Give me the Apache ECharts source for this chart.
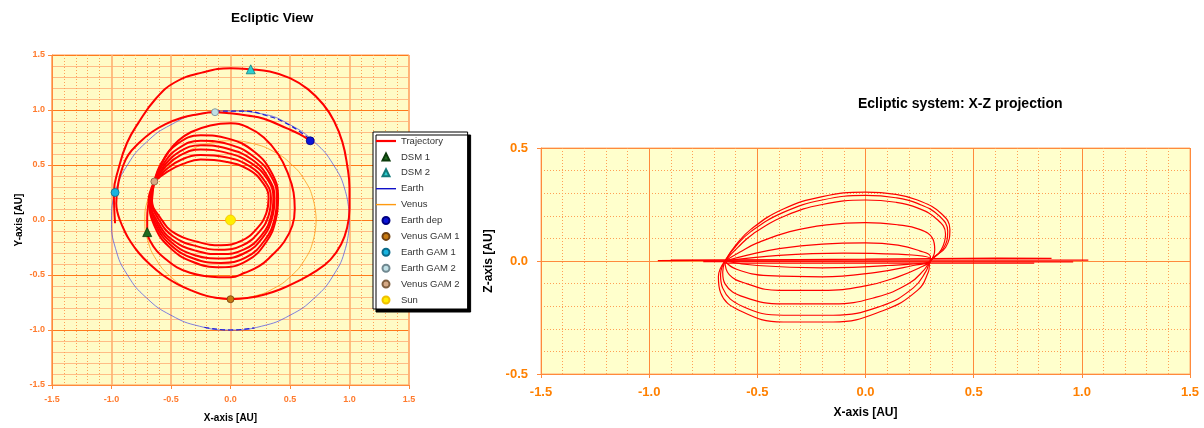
<!DOCTYPE html>
<html>
<head>
<meta charset="utf-8">
<title>Ecliptic View</title>
<script src="https://cdn.jsdelivr.net/npm/echarts/dist/echarts.min.js"></script>
<style>
html, body { margin: 0; padding: 0; background: #fff; }
#chart { width: 1204px; height: 428px; }
</style>
</head>
<body>
<div id="chart"></div>
<script>
// tick labels shared by both plots
var ticks = [-1.5, -1.0, -0.5, 0.0, 0.5, 1.0, 1.5]
var zTicks = [-0.5, 0.0, 0.5]

// planet orbits (ecliptic X-Y, AU)
var earthOrbit = [[1,0],[0.966,0.259],[0.866,0.5],[0.707,0.707],[0.5,0.866],[0.259,0.966],[0,0.99],
  [-0.259,0.966],[-0.5,0.866],[-0.707,0.707],[-0.866,0.5],[-0.966,0.259],[-1,0],[-0.966,-0.259],
  [-0.866,-0.5],[-0.707,-0.707],[-0.5,-0.866],[-0.259,-0.966],[0,-1],[0.259,-0.966],[0.5,-0.866],
  [0.707,-0.707],[0.866,-0.5],[0.966,-0.259],[1,0]]
// darker dashed stretches of the Earth orbit
var earthArcTop = [[-0.13,0.99],[0.1,0.99],[0.3,0.95],[0.5,0.86],[0.67,0.73]]
var earthArcBottom = [[-0.22,-0.975],[0,-1],[0.2,-0.98]]
var venusOrbit = [[0.72,0],[0.695,0.186],[0.624,0.36],[0.509,0.509],[0.36,0.624],[0.186,0.695],[0,0.72],
  [-0.186,0.695],[-0.36,0.624],[-0.509,0.509],[-0.624,0.36],[-0.695,0.186],[-0.72,0],[-0.695,-0.186],
  [-0.624,-0.36],[-0.509,-0.509],[-0.36,-0.624],[-0.186,-0.695],[0,-0.72],[0.186,-0.695],[0.36,-0.624],
  [0.509,-0.509],[0.624,-0.36],[0.695,-0.186],[0.72,0]]

// trajectory legs, X-Y
var legDeparture = [[0.67,0.72],[0.58,0.78],[0.48,0.83],[0.28,0.92],[0.14,0.95],[0.0,0.97],[-0.14,0.98],
  [-0.28,0.96],[-0.41,0.93],[-0.55,0.87],[-0.66,0.8],[-0.77,0.7],[-0.86,0.59],[-0.91,0.47],[-0.94,0.35],
  [-0.96,0.15],[-0.95,0.07],[-0.93,0.0],[-0.89,-0.1],[-0.85,-0.18],[-0.77,-0.3],[-0.68,-0.4],[-0.57,-0.5],
  [-0.45,-0.58],[-0.33,-0.64],[-0.2,-0.69],[-0.1,-0.71],[0,-0.72]]
var legOuter = [[0,-0.72],[0.14,-0.71],[0.28,-0.68],[0.42,-0.63],[0.56,-0.56],[0.71,-0.47],[0.84,-0.36],
  [0.93,-0.22],[0.98,-0.07],[1.0,0.1],[1.0,0.29],[0.98,0.5],[0.94,0.71],[0.87,0.9],[0.78,1.05],[0.65,1.19],
  [0.5,1.29],[0.33,1.35],[0.17,1.37],[0,1.38],[-0.24,1.34],[-0.47,1.25],[-0.63,1.1],[-0.77,0.89],
  [-0.87,0.7],[-0.94,0.47],[-0.98,0.25],[-0.97,-0.03]]
var legMiddle = [[-0.64,0.35],[-0.68,0.24],[-0.69,0.15],[-0.7,0.02],[-0.7,-0.11],[-0.67,-0.2],[-0.62,-0.28],
  [-0.54,-0.36],[-0.45,-0.43],[-0.34,-0.48],[-0.22,-0.51],[-0.1,-0.52],[0,-0.52],[0.12,-0.48],[0.24,-0.42],
  [0.34,-0.33],[0.45,-0.2],[0.52,-0.05],[0.54,0.1],[0.53,0.25],[0.48,0.43],[0.4,0.6],[0.28,0.75],
  [0.15,0.84],[0,0.88],[-0.17,0.86],[-0.33,0.8],[-0.44,0.72],[-0.52,0.62],[-0.59,0.49],[-0.64,0.35]]
var loop1 = [[-0.64,0.35],[-0.68,0.15],[-0.64,-0.05],[-0.52,-0.24],[-0.32,-0.38],[-0.08,-0.43],[0.14,-0.37],
  [0.3,-0.2],[0.38,0.0],[0.4,0.2],[0.35,0.42],[0.2,0.62],[-0.02,0.74],[-0.25,0.77],[-0.45,0.69],[-0.58,0.52],[-0.64,0.35]]
var loop2 = [[-0.64,0.35],[-0.68,0.15],[-0.63,-0.04],[-0.51,-0.22],[-0.31,-0.35],[-0.08,-0.39],[0.13,-0.34],
  [0.29,-0.18],[0.37,0.01],[0.39,0.2],[0.34,0.4],[0.19,0.58],[-0.02,0.69],[-0.25,0.72],[-0.44,0.65],[-0.57,0.5],[-0.64,0.35]]
var loop3 = [[-0.64,0.35],[-0.67,0.16],[-0.62,-0.03],[-0.5,-0.2],[-0.3,-0.32],[-0.08,-0.35],[0.12,-0.3],
  [0.27,-0.16],[0.35,0.02],[0.37,0.2],[0.32,0.38],[0.18,0.55],[-0.03,0.65],[-0.25,0.68],[-0.43,0.62],[-0.56,0.49],[-0.64,0.35]]
var loop4 = [[-0.64,0.35],[-0.67,0.16],[-0.61,-0.02],[-0.49,-0.18],[-0.29,-0.28],[-0.08,-0.31],[0.11,-0.27],
  [0.26,-0.14],[0.34,0.03],[0.36,0.2],[0.31,0.37],[0.17,0.52],[-0.03,0.61],[-0.25,0.64],[-0.42,0.59],[-0.55,0.48],[-0.64,0.35]]
var loop5 = [[-0.64,0.35],[-0.66,0.17],[-0.6,0.0],[-0.48,-0.15],[-0.28,-0.24],[-0.08,-0.27],[0.1,-0.23],
  [0.24,-0.11],[0.32,0.04],[0.34,0.2],[0.29,0.35],[0.16,0.49],[-0.04,0.57],[-0.25,0.59],[-0.41,0.55],[-0.54,0.46],[-0.64,0.35]]
var loop6 = [[-0.64,0.35],[-0.66,0.18],[-0.59,0.02],[-0.47,-0.12],[-0.27,-0.2],[-0.08,-0.23],[0.09,-0.19],
  [0.22,-0.08],[0.3,0.06],[0.32,0.2],[0.27,0.34],[0.15,0.46],[-0.04,0.53],[-0.25,0.55],[-0.4,0.51],[-0.53,0.44],[-0.64,0.35]]

// events
var dsm1 = [-0.7, -0.11]
var dsm2 = [0.17, 1.37]
var earthDep = [0.67, 0.72]
var venusGam1 = [0.0, -0.72]
var earthGam1 = [-0.97, 0.25]
var earthGam2 = [-0.13, 0.98]
var venusGam2 = [-0.64, 0.35]
var sun = [0.0, 0.0]

// trajectory, X-Z projection
var xzFlatA = [[-0.96,0.002],[0.0,0.008],[0.61,0.013],[0.86,0.012]]
var xzFlatB = [[-0.9,0.004],[0.2,0.004],[1.03,0.004]]
var xzFlatC = [[-0.75,-0.003],[0.3,-0.004],[0.96,-0.004]]
var xzFlatD = [[-0.65,-0.01],[0.2,-0.01],[0.78,-0.009]]
var xzLoop1 = [[-0.65,0],[-0.4,0.025],[-0.1,0.035],[0.15,0.03],[0.3,0.01],[0.3,0],[0.1,-0.02],[-0.2,-0.03],[-0.5,-0.02],[-0.65,0]]
var xzLoop2 = [[-0.65,0],[-0.55,0.025],[-0.4,0.055],[-0.2,0.075],[0,0.08],[0.15,0.07],[0.25,0.045],[0.3,0.02],[0.3,0],
  [0.22,-0.02],[0.05,-0.05],[-0.2,-0.07],[-0.45,-0.065],[-0.6,-0.035],[-0.65,0]]
var xzLoop3 = [[-0.65,0],[-0.58,0.04],[-0.5,0.08],[-0.35,0.13],[-0.18,0.16],[0,0.17],[0.15,0.16],[0.25,0.14],[0.31,0.1],
  [0.32,0.05],[0.3,0],[0.25,-0.03],[0.15,-0.07],[0,-0.11],[-0.2,-0.13],[-0.4,-0.13],[-0.55,-0.1],[-0.63,-0.06],[-0.65,0]]
var xzLoop4 = [[-0.65,0],[-0.59,0.06],[-0.52,0.12],[-0.37,0.2],[-0.2,0.25],[0,0.27],[0.14,0.26],[0.24,0.235],[0.33,0.185],
  [0.37,0.12],[0.35,0.05],[0.3,0],[0.27,-0.04],[0.2,-0.1],[0.05,-0.16],[-0.15,-0.19],[-0.38,-0.19],[-0.56,-0.16],[-0.65,-0.1],[-0.66,-0.05],[-0.65,0]]
var xzLoop5 = [[-0.65,0],[-0.6,0.065],[-0.53,0.13],[-0.38,0.215],[-0.2,0.27],[0,0.29],[0.14,0.28],[0.24,0.255],[0.34,0.2],
  [0.38,0.13],[0.36,0.055],[0.3,0],[0.28,-0.045],[0.22,-0.12],[0.07,-0.2],[-0.15,-0.24],[-0.38,-0.24],[-0.57,-0.2],[-0.66,-0.12],[-0.67,-0.06],[-0.65,0]]
var xzLoop6 = [[-0.65,0],[-0.6,0.07],[-0.53,0.14],[-0.38,0.23],[-0.2,0.285],[0,0.305],[0.14,0.295],[0.24,0.27],[0.35,0.21],
  [0.39,0.14],[0.37,0.06],[0.3,0],[0.29,-0.05],[0.24,-0.13],[0.08,-0.22],[-0.15,-0.27],[-0.38,-0.27],[-0.58,-0.22],[-0.67,-0.14],[-0.68,-0.07],[-0.65,0]]

var lineIcon = 'path://M0,0h20v2.2h-20z'
var thinIcon = 'path://M0,0h20v1.4h-20z'
var triIcon = 'path://M4,0L8,8L0,8Z'
var legendItems = [
  { name: 'Trajectory', icon: lineIcon },
  { name: 'DSM 1', icon: triIcon },
  { name: 'DSM 2', icon: triIcon },
  { name: 'Earth', icon: thinIcon },
  { name: 'Venus', icon: thinIcon },
  { name: 'Earth dep', icon: 'circle' },
  { name: 'Venus GAM 1', icon: 'circle' },
  { name: 'Earth GAM 1', icon: 'circle' },
  { name: 'Earth GAM 2', icon: 'circle' },
  { name: 'Venus GAM 2', icon: 'circle' },
  { name: 'Sun', icon: 'circle' }
]

var fmt = function (v) { return v.toFixed(1) }

function axis(idx, dim, name, big, lo, hi, minorDotted) {
  return {
    type: 'value', gridIndex: idx, min: lo, max: hi, interval: 0.5,
    name: name, nameLocation: 'middle',
    nameGap: big ? (dim === 'x' ? 33 : 39) : 28,
    nameTextStyle: { color: '#000', fontWeight: 'bold', fontSize: big ? 12 : 10, fontFamily: 'Liberation Sans' },
    axisLine: { show: true, onZero: false, lineStyle: { color: '#ff8a3c', width: 1 } },
    axisTick: { show: true, inside: false, length: 4, lineStyle: { color: '#ff8a3c' } },
    axisLabel: {
      formatter: fmt, color: big ? '#ff8000' : '#ff7b2e', fontWeight: 'bold',
      fontSize: big ? 13 : 9, fontFamily: 'Liberation Sans',
      margin: big ? (dim === 'x' ? 12 : 13) : (dim === 'x' ? 10 : 7)
    },
    splitLine: { show: true, lineStyle: {
      color: big ? '#ff8a3c' : (dim === 'y' ? '#ff7a1a' : '#ffb070'),
      width: big ? 1 : (dim === 'y' ? 1.2 : 1.6) } },
    minorTick: { show: false, splitNumber: 5 },
    minorSplitLine: { show: true, lineStyle: minorDotted
      ? { color: '#ffa055', width: 1, type: [1, 2] }
      : { color: '#ffbc85', width: 1, type: 'solid' } }
  }
}

function traj(data, i, w) {
  return {
    name: 'Trajectory', type: 'line', xAxisIndex: i, yAxisIndex: i, data: data,
    smooth: data.length > 5 ? 0.45 : false, symbol: 'none',
    lineStyle: { color: '#ff0000', width: w }, itemStyle: { color: '#ff0000' }, z: 3
  }
}

function marker(name, pt, symbol, color, size, border) {
  return {
    name: name, type: 'scatter', xAxisIndex: 0, yAxisIndex: 0, data: [pt],
    symbol: symbol, symbolSize: size,
    itemStyle: { color: color, borderColor: border, borderWidth: 0.8, opacity: 1 }, z: 5
  }
}

var chart = echarts.init(document.getElementById('chart'))
chart.setOption({
  animation: false,
  backgroundColor: '#fff',
  graphic: [
    { type: 'text', left: 231, top: 11, style: { text: 'Ecliptic View', fill: '#000',
      font: 'bold 13.5px "Liberation Sans"', textAlign: 'center' } },
    { type: 'text', left: 858, top: 97, style: { text: 'Ecliptic system: X-Z projection', fill: '#000',
      font: 'bold 14px "Liberation Sans"', textAlign: 'center' } }
  ],
  grid: [
    { left: 52, right: 795, top: 55, bottom: 43, show: true, backgroundColor: '#fffbc6',
      borderColor: '#ff9a50', borderWidth: 1, outerBoundsMode: 'none' },
    { left: 541, right: 14, top: 148, bottom: 54, show: true, backgroundColor: '#ffffcc',
      borderColor: '#ffb070', borderWidth: 1, outerBoundsMode: 'none' }
  ],
  xAxis: [
    axis(0, 'x', 'X-axis [AU]', false, ticks[0], ticks[ticks.length - 1], true),
    axis(1, 'x', 'X-axis [AU]', true, ticks[0], ticks[ticks.length - 1], true)
  ],
  yAxis: [
    axis(0, 'y', 'Y-axis [AU]', false, ticks[0], ticks[ticks.length - 1], false),
    axis(1, 'y', 'Z-axis [AU]', true, zTicks[0], zTicks[zTicks.length - 1], true)
  ],
  legend: {
    data: legendItems, orient: 'vertical', left: 373, top: 132,
    selectedMode: false, backgroundColor: '#fff', borderColor: '#000', borderWidth: 1,
    shadowColor: '#000', shadowOffsetX: 3, shadowOffsetY: 3, shadowBlur: 0,
    padding: [3, 8, 3, 3], itemGap: 3.9, itemWidth: 20, itemHeight: 7, symbolKeepAspect: true,
    textStyle: { fontSize: 9.5, color: '#333', lineHeight: 12, fontFamily: 'Liberation Sans' }
  },
  series: [
    { name: 'Earth', type: 'line', xAxisIndex: 0, yAxisIndex: 0, data: earthOrbit, smooth: 0.5, symbol: 'none',
      lineStyle: { color: '#4a4ae6', width: 1, opacity: 0.7 }, itemStyle: { color: '#1010c8' }, z: 2 },
    { name: 'Earth', type: 'line', xAxisIndex: 0, yAxisIndex: 0, data: earthArcTop, smooth: 0.5, symbol: 'none',
      lineStyle: { color: '#1a1ad8', width: 1.2, type: [5, 3] }, itemStyle: { color: '#1010c8' }, z: 2 },
    { name: 'Earth', type: 'line', xAxisIndex: 0, yAxisIndex: 0, data: earthArcBottom, smooth: 0.5, symbol: 'none',
      lineStyle: { color: '#1a1ad8', width: 1.2, type: [5, 3] }, itemStyle: { color: '#1010c8' }, z: 2 },
    { name: 'Venus', type: 'line', xAxisIndex: 0, yAxisIndex: 0, data: venusOrbit, smooth: 0.5, symbol: 'none',
      lineStyle: { color: '#ffa020', width: 1, opacity: 0.85 }, itemStyle: { color: '#ff9a10' }, z: 2 },
    traj(legDeparture, 0, 2),
    traj(legOuter, 0, 2),
    traj(legMiddle, 0, 2),
    traj(loop1, 0, 2), traj(loop2, 0, 2), traj(loop3, 0, 2),
    traj(loop4, 0, 2), traj(loop5, 0, 2), traj(loop6, 0, 2),
    marker('DSM 1', dsm1, 'triangle', '#1f6b1f', 9, '#0b3a0b'),
    marker('DSM 2', dsm2, 'triangle', '#2ccfd0', 9, '#137a7a'),
    marker('Earth dep', earthDep, 'circle', '#0a14d8', 8, '#000080'),
    marker('Venus GAM 1', venusGam1, 'circle', '#c87a10', 7, '#704010'),
    marker('Earth GAM 1', earthGam1, 'circle', '#18b4e0', 8, '#0a6a8a'),
    marker('Earth GAM 2', earthGam2, 'circle', '#bfe0e6', 7, '#708890'),
    marker('Venus GAM 2', venusGam2, 'circle', '#d6aa86', 7, '#806040'),
    marker('Sun', sun, 'circle', '#ffee00', 10, '#f0c000'),
    traj(xzFlatA, 1, 1.2), traj(xzFlatB, 1, 1.2), traj(xzFlatC, 1, 1.2), traj(xzFlatD, 1, 1.2),
    traj(xzLoop1, 1, 1.2), traj(xzLoop2, 1, 1.2), traj(xzLoop3, 1, 1.2),
    traj(xzLoop4, 1, 1.2), traj(xzLoop5, 1, 1.2), traj(xzLoop6, 1, 1.2)
  ]
})
</script>
</body>
</html>
